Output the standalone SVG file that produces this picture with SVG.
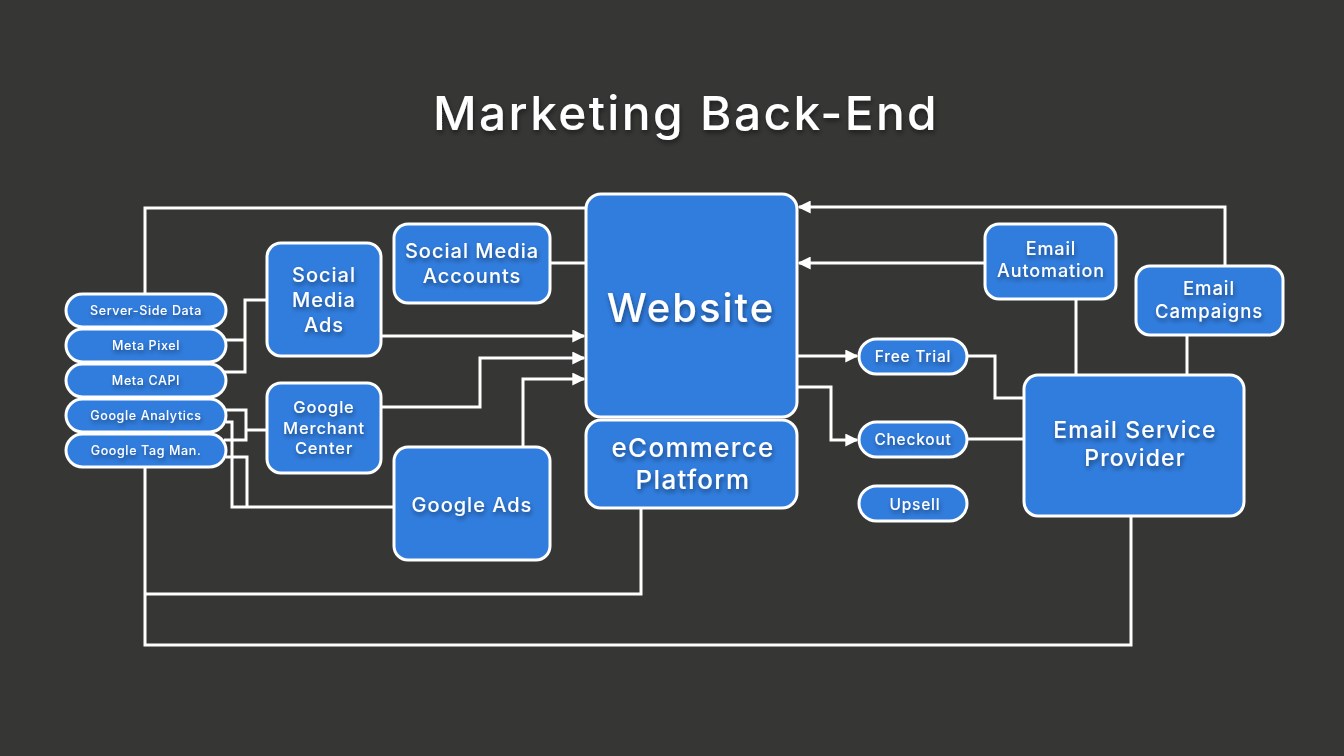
<svg xmlns="http://www.w3.org/2000/svg" width="1344" height="756" viewBox="0 0 1344 756">
<defs>
<style>
.node{fill:#317dde;stroke:#ffffff;stroke-width:3}
.t{fill:#ffffff;font-family:Inter,"Open Sans",sans-serif;font-weight:500;text-anchor:middle;letter-spacing:0.05em;filter:url(#ts)}
.c{fill:none;stroke:#ffffff;stroke-width:3;stroke-linejoin:miter}
</style>
<filter id="ts" x="-20%" y="-40%" width="140%" height="180%">
<feDropShadow dx="1" dy="3" stdDeviation="2.5" flood-color="#000000" flood-opacity="0.45"/>
</filter>
<marker id="ah" viewBox="0 0 10 10" refX="9" refY="5" markerWidth="13" markerHeight="13" markerUnits="userSpaceOnUse" orient="auto">
<path d="M0,0 L10,5 L0,10 z" fill="#ffffff"/>
</marker>
</defs>
<rect width="1344" height="756" fill="#363634"/>
<text x="686" y="130" class="t" font-size="47" font-weight="600" letter-spacing="0" textLength="506" lengthAdjust="spacingAndGlyphs">Marketing Back-End</text>

<g id="connectors">
<path class="c" d="M145,294 V208 H586"/>
<path class="c" d="M224,340 H245 M224,372 H245 V300 H267"/>
<path class="c" d="M224,410 H246 V440 H224 M246,430 H267"/>
<path class="c" d="M226,422 H232 V507 H394 M226,457 H247 V507"/>
<path class="c" d="M145,467 V645 H1131 V516 M145,594 H641 V508"/>
<path class="c" d="M550,263 H586"/>
<path class="c" d="M381,336 H584" marker-end="url(#ah)"/>
<path class="c" d="M381,407 H480 V358 H584" marker-end="url(#ah)"/>
<path class="c" d="M523,447 V379 H584" marker-end="url(#ah)"/>
<path class="c" d="M1225,266 V207 H799" marker-end="url(#ah)"/>
<path class="c" d="M985,263 H799" marker-end="url(#ah)"/>
<path class="c" d="M1076,299 V375"/>
<path class="c" d="M1187,335 V375"/>
<path class="c" d="M797,356 H857" marker-end="url(#ah)"/>
<path class="c" d="M797,387 H831 V440 H857" marker-end="url(#ah)"/>
<path class="c" d="M967,356 H995 V398 H1024"/>
<path class="c" d="M967,439 H1024"/>
</g>

<g id="server-side-data"><rect class="node" x="66" y="294" width="160" height="33" rx="16.5"/><text class="t" x="146" y="315" font-size="12.5" letter-spacing="0.02em">Server-Side Data</text></g>
<g id="meta-pixel"><rect class="node" x="66" y="329" width="160" height="33" rx="16.5"/><text class="t" x="146" y="350" font-size="12.5" letter-spacing="0.02em">Meta Pixel</text></g>
<g id="meta-capi"><rect class="node" x="66" y="364" width="160" height="33" rx="16.5"/><text class="t" x="146" y="385" font-size="12.5" letter-spacing="0.02em">Meta CAPI</text></g>
<g id="google-analytics"><rect class="node" x="66" y="399" width="160" height="33" rx="16.5"/><text class="t" x="146" y="420" font-size="12.5" letter-spacing="0.02em">Google Analytics</text></g>
<g id="google-tag-man"><rect class="node" x="66" y="434" width="160" height="33" rx="16.5"/><text class="t" x="146" y="455" font-size="12.5" letter-spacing="0.02em">Google Tag Man.</text></g>

<g id="social-media-ads"><rect class="node" x="267" y="243" width="114" height="113" rx="14"/>
<text class="t" font-size="20"><tspan x="324" y="282">Social</tspan><tspan x="324" y="307">Media</tspan><tspan x="324" y="332">Ads</tspan></text></g>
<g id="google-merchant-center"><rect class="node" x="267" y="383" width="114" height="90" rx="14"/>
<text class="t" font-size="16.5" letter-spacing="0.03em"><tspan x="324" y="413">Google</tspan><tspan x="324" y="433.5">Merchant</tspan><tspan x="324" y="454">Center</tspan></text></g>
<g id="social-media-accounts"><rect class="node" x="394" y="224" width="156" height="79" rx="14"/>
<text class="t" font-size="20" letter-spacing="0.03em"><tspan x="472" y="258">Social Media</tspan><tspan x="472" y="283">Accounts</tspan></text></g>
<g id="google-ads"><rect class="node" x="394" y="447" width="156" height="113" rx="14"/>
<text class="t" x="472" y="512" font-size="20">Google Ads</text></g>
<g id="website"><rect class="node" x="586" y="194" width="211" height="223" rx="15"/>
<text class="t" x="691" y="322" font-size="40" font-weight="600">Website</text></g>
<g id="ecommerce-platform"><rect class="node" x="586" y="420" width="211" height="88" rx="15"/>
<text class="t" font-size="26"><tspan x="693" y="457">eCommerce</tspan><tspan x="693" y="489">Platform</tspan></text></g>

<g id="free-trial"><rect class="node" x="859" y="339" width="108" height="35" rx="17.5"/><text class="t" x="913" y="362" font-size="15.5">Free Trial</text></g>
<g id="checkout"><rect class="node" x="859" y="422" width="108" height="35" rx="17.5"/><text class="t" x="913" y="445" font-size="15.5">Checkout</text></g>
<g id="upsell"><rect class="node" x="859" y="486" width="108" height="35" rx="17.5"/><text class="t" x="915" y="510" font-size="15.5">Upsell</text></g>

<g id="email-automation"><rect class="node" x="985" y="224" width="131" height="75" rx="14"/>
<text class="t" font-size="18" letter-spacing="0.03em"><tspan x="1051" y="255">Email</tspan><tspan x="1051" y="277">Automation</tspan></text></g>
<g id="email-campaigns"><rect class="node" x="1136" y="266" width="147" height="69" rx="14"/>
<text class="t" font-size="18.5"><tspan x="1209" y="295">Email</tspan><tspan x="1209" y="318">Campaigns</tspan></text></g>
<g id="email-service-provider"><rect class="node" x="1024" y="375" width="220" height="141" rx="14"/>
<text class="t" font-size="23"><tspan x="1135" y="438">Email Service</tspan><tspan x="1135" y="466">Provider</tspan></text></g>
</svg>
